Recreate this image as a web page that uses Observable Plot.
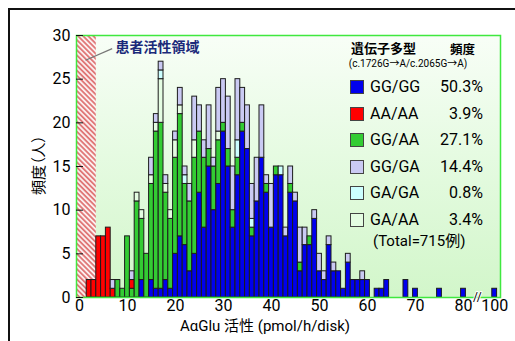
<!DOCTYPE html>
<html><head><meta charset="utf-8">
<script src="https://cdn.jsdelivr.net/npm/d3@7"></script>
<script src="https://cdn.jsdelivr.net/npm/@observablehq/plot@0.6"></script>
<style>
html,body{margin:0;padding:0;background:#fff;overflow:hidden;}
#wrap{position:relative;width:515px;height:341px;font-family:Roboto,"Noto Sans CJK JP",sans-serif;color:#000;overflow:hidden;}
#border{position:absolute;left:8px;top:8px;width:620px;height:420px;border:2px solid #111;}
#bg{position:absolute;left:76px;top:35px;width:424px;height:262px;background:linear-gradient(to bottom,#f8fef7 0%,#e6fbe2 45%,#d2f6ca 100%);}
#chart{position:absolute;left:0;top:0;}
.abs{position:absolute;white-space:nowrap;line-height:1;}
.sw{position:absolute;left:350px;width:12px;height:12px;border:1px solid #444;}
.lab{position:absolute;left:370px;font-size:16px;line-height:20px;white-space:nowrap;}
.pct{position:absolute;right:32px;font-size:16px;line-height:20px;text-align:right;white-space:nowrap;}
.jp{font-family:"Noto Sans CJK JP",sans-serif;font-feature-settings:"palt";}
</style></head>
<body>
<div id="wrap">
  <div id="border"></div>
  <div id="bg"></div>
  <div id="chart"></div>
  <div id="legend"></div>
  <div class="abs jp" id="ylab" style="left:37px;top:165px;font-size:15px;transform:translate(-50%,-50%) rotate(-90deg);"></div>
  <div class="abs" id="xlab" style="left:265px;top:326px;font-size:15px;transform:translate(-50%,-50%);"></div>
</div>
<script>
// ---- data (bin = AαGlu activity, pmol/h/disk) ----
const bins = [2,3,4,5,6,7,8,9,10,11, 12,13,14,15,16,17,18,19,20,21, 22,23,24,25,26,27,28,29,30,31, 32,33,34,35,36,37,38,39,40,41, 42,43,44,45,46,47,48,49,50,51, 52,53,54,55,56,57,58,59,60, 62,63,64,68,70,75,80,100];
const ggGG = [0,0,0,0,0,0,0,0,0,0, 0,2,0,2,1,1,2,1,5,7, 6,3,5,12,8,15,10,13,19,15, 8,14,19,17,7,11,16,12,8,14, 14,7,12,11,3,6,6,9,3,2, 6,3,3,1,4,2,2,2,2, 1,1,2,2,1,1,1,1];
const aaAA = [2,2,7,7,8,1,0,0,0,1, 0,0,0,0,0,0,0,0,0,0, 0,0,0,0,0,0,0,0,0,0, 0,0,0,0,0,0,0,0,0,0, 0,0,0,0,0,0,0,0,0,0, 0,0,0,0,0,0,0,0,0, 0,0,0,0,0,0,0,0];
const ggAA = [0,0,0,0,0,0,2,1,7,1, 11,7,5,11,18,19,10,8,11,14, 7,8,11,7,8,2,5,5,1,2, 2,2,1,0,1,0,0,1,0,1, 0,0,1,0,1,0,1,0,0,0, 0,0,0,0,0,0,0,0,0, 0,0,0,0,0,0,0,0];
const ggGA = [0,0,0,0,0,1,0,0,0,1, 0,0,0,2,1,1,1,0,1,2, 1,2,5,3,2,5,1,5,5,6, 5,7,4,5,4,5,6,1,5,0, 0,1,2,1,4,2,0,1,2,1, 1,1,0,0,1,0,0,1,0, 0,0,0,0,0,0,0,0];
const gaGA = [0,0,0,0,0,0,0,0,0,0, 0,0,0,0,0,1,0,0,0,0, 1,0,0,0,0,0,0,0,0,0, 0,2,0,0,1,0,0,0,0,0, 1,0,0,0,0,0,0,0,0,0, 0,0,0,0,0,0,0,0,0, 0,0,0,0,0,0,0,0];
const gaAA = [0,0,0,0,0,0,0,0,0,0, 1,1,0,1,1,5,1,1,2,1, 0,0,2,0,0,0,0,1,0,0, 0,0,0,0,0,0,0,0,0,0, 0,0,0,0,0,0,0,0,0,0, 0,0,0,0,0,0,0,0,0, 0,0,0,0,0,0,0,0];

const genotypes = ["GG/GG","AA/AA","GG/AA","GG/GA","GA/GA","GA/AA"];
const percents  = ["50.3%","3.9%","27.1%","14.4%","0.8%","3.4%"];
const stackOrder = ["GG/GG","GG/AA","AA/AA","GA/AA","GA/GA","GG/GA"];
const yTicks = [0,5,10,15,20,25,30];
const xTickValues = [0,10,20,30,40,50,60,70,80,100];
const patientMax = 3.5;          // hatched patient-activity region upper bound
const breakValue = 100, breakPos = 86.5, breakMark = 82.9;
const annotation = [{text:"患者活性領域", x:7.5, y:28.57, lx1:1.25, ly1:27.16, lx2:6.81, ly2:28.5}];
const yLabel = "頻度（人）";
const xLabel = "AαGlu 活性 (pmol/h/disk)";
const legendTitle = "遺伝子多型", legendFreq = "頻度", legendSub = "(c.1726G→A/c.2065G→A)", legendTotal = "(Total=715例)";

// ---- styles ----
const genoColors = ["#0000ee","#ff0000","#33cc33","#cacaf3","#ccffff","#e4fde2"];
const series = {"GG/GG":ggGG,"AA/AA":aaAA,"GG/AA":ggAA,"GG/GA":ggGA,"GA/GA":gaGA,"GA/AA":gaAA};
const pos = b => b === breakValue ? breakPos : b;

const rows = [];
bins.forEach((b,i)=>{ for (const g of stackOrder){ const v = series[g][i]; if (v>0) rows.push({bin:b, geno:g, count:v}); } });

const xDomain = [-0.625, 87.71];
const xTickPos = xTickValues.map(pos);
const labelAt = new Map(xTickValues.map(v=>[pos(v), String(v)]));

const chart = Plot.plot({
  width:515, height:341,
  marginLeft:76, marginRight:15, marginTop:35, marginBottom:44,
  x:{domain:xDomain, ticks:xTickPos, tickFormat:d=>labelAt.get(d) ?? "", tickSize:0, tickPadding:2, label:null},
  y:{domain:[0,30], ticks:yTicks, tickSize:0, tickPadding:6, label:null},
  color:{domain:genotypes, range:genoColors},
  style:{background:"transparent", fontSize:"16px", fontFamily:"Roboto, 'Noto Sans CJK JP', sans-serif", color:"#000", overflow:"visible"},
  marks:[
    Plot.rect([patientMax], {x1:xDomain[0], x2:d=>d, y1:0, y2:30, fill:"url(#hatch)"}),
    Plot.rectY(rows, {x1:d=>pos(d.bin)-0.5, x2:d=>pos(d.bin)+0.5, y:"count", fill:"geno", z:"geno", order:stackOrder, stroke:"#1c1c1c", strokeWidth:1}),
    Plot.frame({stroke:"#3fe83f", strokeWidth:1.5}),
    Plot.ruleY(yTicks, {x1:xDomain[0], x2:xDomain[0]+1.45, stroke:"#111", strokeWidth:1}),
    Plot.link(annotation, {x1:"lx1", y1:"ly1", x2:"lx2", y2:"ly2", stroke:"#777", strokeWidth:1.2}),
    Plot.text(annotation, {x:"x", y:"y", text:"text", textAnchor:"start", fill:"#1b2a7a", fontWeight:"bold", fontSize:14, fontFamily:"'Noto Sans CJK JP', sans-serif"}),
    Plot.text([breakMark], {x:d=>d, y:0, text:()=>"//", fontSize:12, fill:"#000", stroke:"#fff", strokeWidth:2, paintOrder:"stroke"})
  ]
});
const svgns = "http://www.w3.org/2000/svg";
const defs = document.createElementNS(svgns,"defs");
defs.innerHTML = '<pattern id="hatch" patternUnits="userSpaceOnUse" width="3.6" height="3.6" patternTransform="rotate(-45)"><rect width="3.6" height="3.6" fill="#fbeeee"/><rect width="1.8" height="3.6" fill="#e07878"/></pattern>';
chart.insertBefore(defs, chart.firstChild);
document.getElementById("chart").appendChild(chart);

// ---- text / legend ----
document.getElementById("ylab").textContent = yLabel;
document.getElementById("xlab").textContent = xLabel;
const leg = document.getElementById("legend");
leg.insertAdjacentHTML("beforeend",
  `<div class="abs jp" style="left:351px;top:41px;font-size:13px;font-weight:bold;">${legendTitle}</div>
   <div class="abs jp" style="left:450px;top:43px;font-size:12.5px;font-weight:bold;">${legendFreq}</div>
   <div class="abs" style="left:408px;top:64px;font-size:10px;transform:translate(-50%,-50%);">${legendSub}</div>
   <div class="abs" style="left:373px;top:234px;font-size:15px;">${legendTotal}</div>`);
genotypes.forEach((g,i)=>{
  const y = 87 + i*26.6;
  leg.insertAdjacentHTML("beforeend",
    `<div class="sw" style="top:${y-7}px;background:${genoColors[i]}"></div>
     <div class="lab" style="top:${y-10}px">${g}</div>
     <div class="pct" style="top:${y-10}px">${percents[i]}</div>`);
});
</script>
</body></html>
